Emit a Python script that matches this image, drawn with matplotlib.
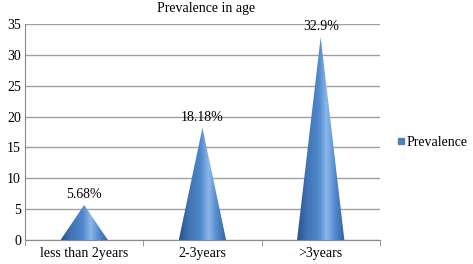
import numpy as np
import matplotlib
matplotlib.use("Agg")
import matplotlib.pyplot as plt
from matplotlib.patches import Polygon
from matplotlib.colors import LinearSegmentedColormap

# Chart data
categories = ["less than 2years", "2-3years", ">3years"]
prevalence = [5.68, 18.18, 32.9]
labels = ["5.68%", "18.18%", "32.9%"]

plt.rcParams['font.family'] = ['Liberation Serif', 'DejaVu Serif']

fig = plt.figure(figsize=(4.73, 2.64), dpi=100)
ax = fig.add_axes([0.053, 0.091, 0.75, 0.818])

# shading across the cone: dark edges, light streak right of centre
cone_cmap = LinearSegmentedColormap.from_list(
    "cone", [(0.0, "#2a528c"), (0.2, "#3f72b5"), (0.45, "#5088cb"),
             (0.62, "#8cb6ea"), (0.8, "#5189cc"), (1.0, "#3060a0")])
shade = np.linspace(0, 1, 256).reshape(1, -1)

half_w = 0.2
for i, v in enumerate(prevalence):
    tri = Polygon([[i - half_w, 0], [i, v], [i + half_w, 0]], closed=True,
                  facecolor="none", edgecolor="none")
    ax.add_patch(tri)
    im = ax.imshow(shade, cmap=cone_cmap, aspect="auto",
                   extent=[i - half_w, i + half_w, 0, v], zorder=3)
    im.set_clip_path(tri)
    ax.annotate(labels[i], (i, v), xytext=(0, 3), textcoords="offset points",
                ha="center", va="bottom", fontsize=10)

ax.set_xlim(-0.5, len(categories) - 0.5)
ax.set_ylim(0, 35)
ax.set_yticks(range(0, 36, 5))
ax.set_xticks(range(len(categories)))
ax.set_xticklabels(categories)
ax.set_xticks(np.arange(-0.5, len(categories), 1), minor=True)
ax.tick_params(axis="x", which="major", length=0, labelsize=10, pad=5)
ax.tick_params(axis="x", which="minor", length=4, color="#888888")
ax.tick_params(axis="y", length=0, labelsize=10, pad=3)

ax.grid(axis="y", color="#a0a0a0", linewidth=1)
ax.set_axisbelow(True)
for s in ["top", "right"]:
    ax.spines[s].set_visible(False)
ax.spines["left"].set_color("#888888")
ax.spines["bottom"].set_color("#888888")

ax.set_title("Prevalence in age", fontsize=10, pad=9, x=0.51)

# legend
handle = plt.Line2D([], [], marker="s", linestyle="none", markersize=5,
                    markerfacecolor="#4f81bd", markeredgecolor="#4f81bd")
fig.legend([handle], ["Prevalence"], loc="center left",
           bbox_to_anchor=(0.835, 0.46), frameon=False, fontsize=10,
           handletextpad=0.05, handlelength=0.8, borderaxespad=0,
           borderpad=0)

fig.savefig("out.png", dpi=100)
